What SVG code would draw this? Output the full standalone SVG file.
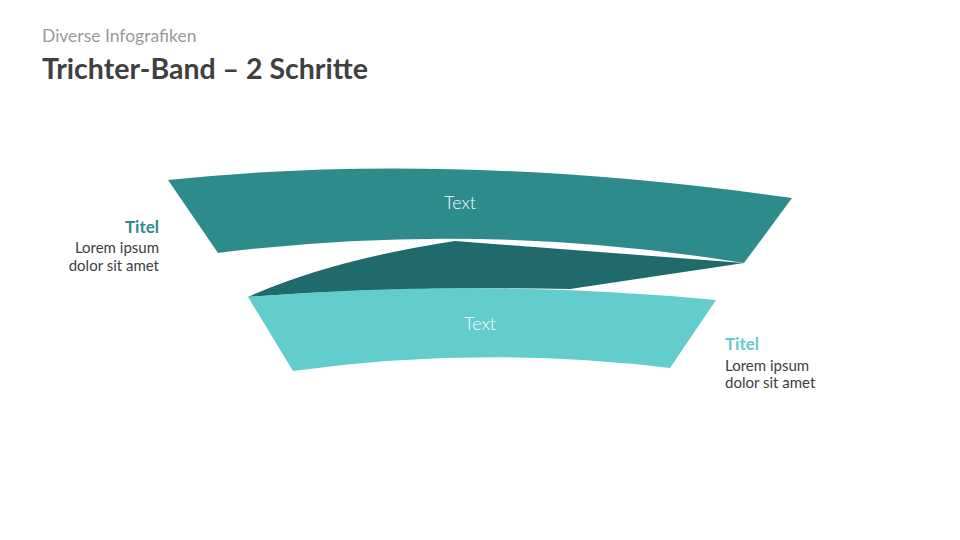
<svg xmlns="http://www.w3.org/2000/svg" width="960" height="540" viewBox="0 0 960 540">
<style>
text{font-family:Lato,"Open Sans","Liberation Sans",sans-serif}
.band{fill:#fff;font-size:18px;font-weight:300;text-anchor:middle}
.body{fill:#404040;font-size:15px}
</style>
<rect width="960" height="540" fill="#fff"/>
<text x="42" y="42" fill="#9a9a9a" font-size="17.5">Diverse Infografiken</text>
<text x="42" y="79" fill="#404040" font-size="28.5" font-weight="bold">Trichter-Band – 2 Schritte</text>
<g id="connectors"></g>
<g id="fold"><path d="M248,297 Q330,260 455,241 L744,263 L570,289 Q400,286 248,297 Z" fill="#216A6B"/></g>
<g id="band1"><path d="M168,180 Q450,150 792,198 L744,263 Q480,220 218,253 Z" fill="#2E8B8B"/>
<text class="band" x="460" y="209">Text</text></g>
<g id="band2"><path d="M248,297 Q480,278 716,300 L670,368 Q480,345 293,371 Z" fill="#63CDCE"/>
<text class="band" x="480" y="330">Text</text></g>
<g id="label1" text-anchor="end"><text x="159" y="233" fill="#2E8B8B" font-size="17" font-weight="bold">Titel</text>
<text class="body" x="159" y="253">Lorem ipsum</text><text class="body" x="159" y="271">dolor sit amet</text></g>
<g id="label2"><text x="725" y="350" fill="#63CDCE" font-size="17" font-weight="bold">Titel</text>
<text class="body" x="725" y="371">Lorem ipsum</text><text class="body" x="725" y="388">dolor sit amet</text></g>
</svg>
